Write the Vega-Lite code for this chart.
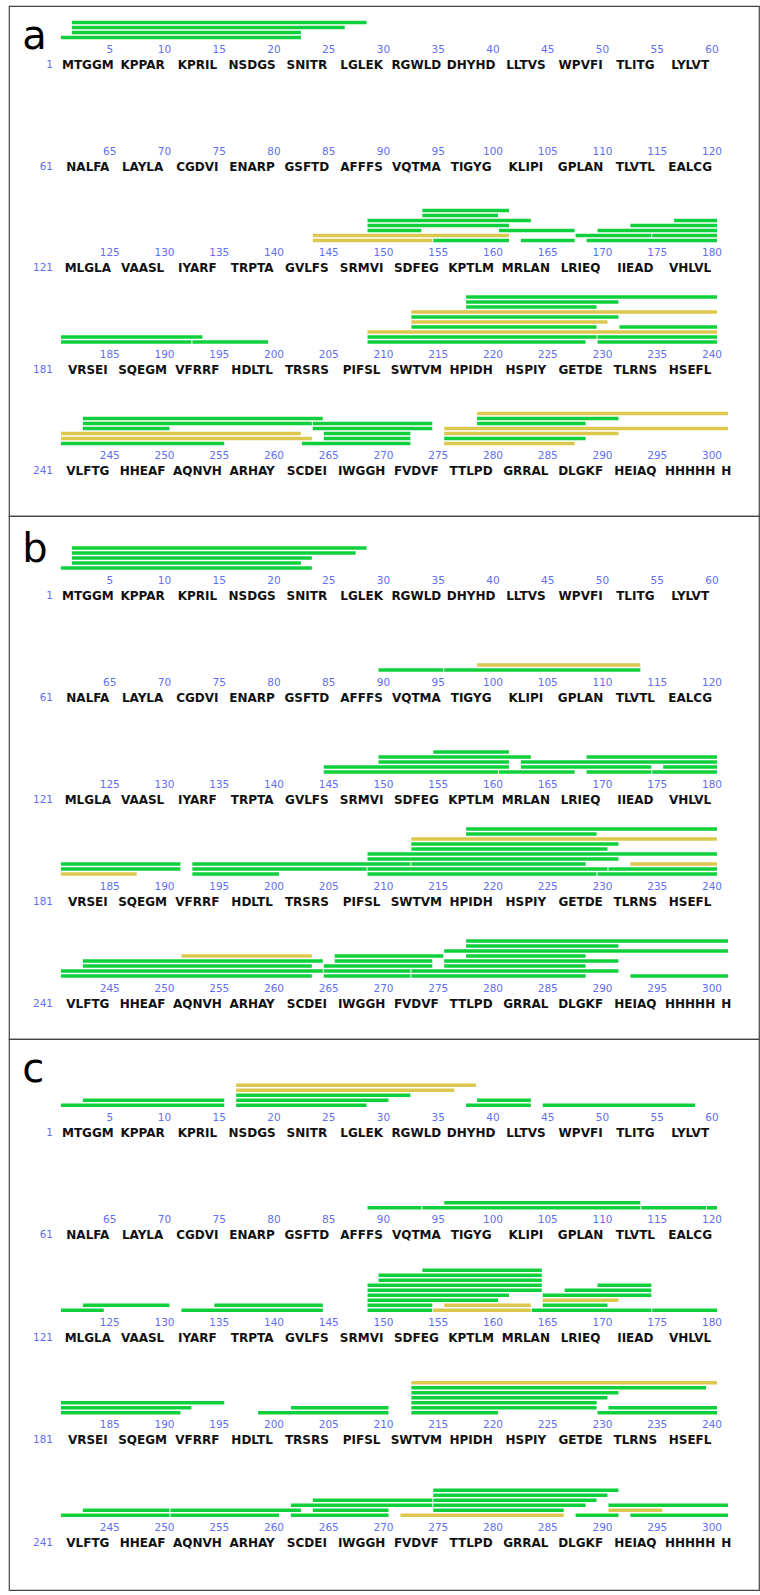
{
"$schema": "https://vega.github.io/schema/vega-lite/v6.json",
"padding": {"left": 8, "top": 5, "right": 2, "bottom": 0},
"spacing": 0,
"bounds": "flush",
"config": {"view": {"stroke": "#444444", "strokeWidth": 1.2}, "font": "DejaVu Sans"},
"datasets": {
"seq": [
{"line":1,"mid":3,"text":"MTGGM"},{"line":1,"mid":8,"text":"KPPAR"},{"line":1,"mid":13,"text":"KPRIL"},{"line":1,"mid":18,"text":"NSDGS"},{"line":1,"mid":23,"text":"SNITR"},{"line":1,"mid":28,"text":"LGLEK"},{"line":1,"mid":33,"text":"RGWLD"},{"line":1,"mid":38,"text":"DHYHD"},{"line":1,"mid":43,"text":"LLTVS"},{"line":1,"mid":48,"text":"WPVFI"},{"line":1,"mid":53,"text":"TLITG"},{"line":1,"mid":58,"text":"LYLVT"},
{"line":2,"mid":3,"text":"NALFA"},{"line":2,"mid":8,"text":"LAYLA"},{"line":2,"mid":13,"text":"CGDVI"},{"line":2,"mid":18,"text":"ENARP"},{"line":2,"mid":23,"text":"GSFTD"},{"line":2,"mid":28,"text":"AFFFS"},{"line":2,"mid":33,"text":"VQTMA"},{"line":2,"mid":38,"text":"TIGYG"},{"line":2,"mid":43,"text":"KLIPI"},{"line":2,"mid":48,"text":"GPLAN"},{"line":2,"mid":53,"text":"TLVTL"},{"line":2,"mid":58,"text":"EALCG"},
{"line":3,"mid":3,"text":"MLGLA"},{"line":3,"mid":8,"text":"VAASL"},{"line":3,"mid":13,"text":"IYARF"},{"line":3,"mid":18,"text":"TRPTA"},{"line":3,"mid":23,"text":"GVLFS"},{"line":3,"mid":28,"text":"SRMVI"},{"line":3,"mid":33,"text":"SDFEG"},{"line":3,"mid":38,"text":"KPTLM"},{"line":3,"mid":43,"text":"MRLAN"},{"line":3,"mid":48,"text":"LRIEQ"},{"line":3,"mid":53,"text":"IIEAD"},{"line":3,"mid":58,"text":"VHLVL"},
{"line":4,"mid":3,"text":"VRSEI"},{"line":4,"mid":8,"text":"SQEGM"},{"line":4,"mid":13,"text":"VFRRF"},{"line":4,"mid":18,"text":"HDLTL"},{"line":4,"mid":23,"text":"TRSRS"},{"line":4,"mid":28,"text":"PIFSL"},{"line":4,"mid":33,"text":"SWTVM"},{"line":4,"mid":38,"text":"HPIDH"},{"line":4,"mid":43,"text":"HSPIY"},{"line":4,"mid":48,"text":"GETDE"},{"line":4,"mid":53,"text":"TLRNS"},{"line":4,"mid":58,"text":"HSEFL"},
{"line":5,"mid":3,"text":"VLFTG"},{"line":5,"mid":8,"text":"HHEAF"},{"line":5,"mid":13,"text":"AQNVH"},{"line":5,"mid":18,"text":"ARHAY"},{"line":5,"mid":23,"text":"SCDEI"},{"line":5,"mid":28,"text":"IWGGH"},{"line":5,"mid":33,"text":"FVDVF"},{"line":5,"mid":38,"text":"TTLPD"},{"line":5,"mid":43,"text":"GRRAL"},{"line":5,"mid":48,"text":"DLGKF"},{"line":5,"mid":53,"text":"HEIAQ"},{"line":5,"mid":58,"text":"HHHHH"},{"line":5,"mid":61.3,"text":"H"}
],
"num": [
{"line":1,"col":5,"label":"5"},{"line":1,"col":10,"label":"10"},{"line":1,"col":15,"label":"15"},{"line":1,"col":20,"label":"20"},{"line":1,"col":25,"label":"25"},{"line":1,"col":30,"label":"30"},{"line":1,"col":35,"label":"35"},{"line":1,"col":40,"label":"40"},{"line":1,"col":45,"label":"45"},{"line":1,"col":50,"label":"50"},{"line":1,"col":55,"label":"55"},{"line":1,"col":60,"label":"60"},
{"line":2,"col":5,"label":"65"},{"line":2,"col":10,"label":"70"},{"line":2,"col":15,"label":"75"},{"line":2,"col":20,"label":"80"},{"line":2,"col":25,"label":"85"},{"line":2,"col":30,"label":"90"},{"line":2,"col":35,"label":"95"},{"line":2,"col":40,"label":"100"},{"line":2,"col":45,"label":"105"},{"line":2,"col":50,"label":"110"},{"line":2,"col":55,"label":"115"},{"line":2,"col":60,"label":"120"},
{"line":3,"col":5,"label":"125"},{"line":3,"col":10,"label":"130"},{"line":3,"col":15,"label":"135"},{"line":3,"col":20,"label":"140"},{"line":3,"col":25,"label":"145"},{"line":3,"col":30,"label":"150"},{"line":3,"col":35,"label":"155"},{"line":3,"col":40,"label":"160"},{"line":3,"col":45,"label":"165"},{"line":3,"col":50,"label":"170"},{"line":3,"col":55,"label":"175"},{"line":3,"col":60,"label":"180"},
{"line":4,"col":5,"label":"185"},{"line":4,"col":10,"label":"190"},{"line":4,"col":15,"label":"195"},{"line":4,"col":20,"label":"200"},{"line":4,"col":25,"label":"205"},{"line":4,"col":30,"label":"210"},{"line":4,"col":35,"label":"215"},{"line":4,"col":40,"label":"220"},{"line":4,"col":45,"label":"225"},{"line":4,"col":50,"label":"230"},{"line":4,"col":55,"label":"235"},{"line":4,"col":60,"label":"240"},
{"line":5,"col":5,"label":"245"},{"line":5,"col":10,"label":"250"},{"line":5,"col":15,"label":"255"},{"line":5,"col":20,"label":"260"},{"line":5,"col":25,"label":"265"},{"line":5,"col":30,"label":"270"},{"line":5,"col":35,"label":"275"},{"line":5,"col":40,"label":"280"},{"line":5,"col":45,"label":"285"},{"line":5,"col":50,"label":"290"},{"line":5,"col":55,"label":"295"},{"line":5,"col":60,"label":"300"}
],
"rowlab": [{"line":1,"label":"1"},{"line":2,"label":"61"},{"line":3,"label":"121"},{"line":4,"label":"181"},{"line":5,"label":"241"}],
"pep": [
{"panel":"a","line":1,"lane":1,"start":1,"end":22,"kind":"I"},{"panel":"a","line":1,"lane":2,"start":2,"end":22,"kind":"I"},{"panel":"a","line":1,"lane":3,"start":2,"end":26,"kind":"I"},{"panel":"a","line":1,"lane":4,"start":2,"end":28,"kind":"I"},
{"panel":"a","line":3,"lane":1,"start":24,"end":34,"kind":"II"},{"panel":"a","line":3,"lane":1,"start":35,"end":41,"kind":"I"},{"panel":"a","line":3,"lane":1,"start":43,"end":47,"kind":"I"},{"panel":"a","line":3,"lane":1,"start":49,"end":60,"kind":"I"},
{"panel":"a","line":3,"lane":2,"start":24,"end":41,"kind":"II"},{"panel":"a","line":3,"lane":2,"start":48,"end":54,"kind":"I"},{"panel":"a","line":3,"lane":2,"start":55,"end":60,"kind":"I"},
{"panel":"a","line":3,"lane":3,"start":29,"end":33,"kind":"I"},{"panel":"a","line":3,"lane":3,"start":41,"end":47,"kind":"I"},{"panel":"a","line":3,"lane":3,"start":50,"end":60,"kind":"I"},
{"panel":"a","line":3,"lane":4,"start":29,"end":41,"kind":"I"},{"panel":"a","line":3,"lane":4,"start":53,"end":60,"kind":"I"},
{"panel":"a","line":3,"lane":5,"start":29,"end":43,"kind":"I"},{"panel":"a","line":3,"lane":5,"start":57,"end":60,"kind":"I"},
{"panel":"a","line":3,"lane":6,"start":34,"end":40,"kind":"I"},{"panel":"a","line":3,"lane":7,"start":34,"end":41,"kind":"I"},
{"panel":"a","line":4,"lane":1,"start":1,"end":12,"kind":"I"},{"panel":"a","line":4,"lane":1,"start":13,"end":19,"kind":"I"},{"panel":"a","line":4,"lane":1,"start":29,"end":48,"kind":"I"},{"panel":"a","line":4,"lane":1,"start":50,"end":60,"kind":"I"},
{"panel":"a","line":4,"lane":2,"start":1,"end":13,"kind":"I"},{"panel":"a","line":4,"lane":2,"start":29,"end":49,"kind":"I"},{"panel":"a","line":4,"lane":2,"start":50,"end":60,"kind":"I"},
{"panel":"a","line":4,"lane":3,"start":29,"end":60,"kind":"II"},
{"panel":"a","line":4,"lane":4,"start":33,"end":49,"kind":"I"},{"panel":"a","line":4,"lane":4,"start":52,"end":60,"kind":"I"},
{"panel":"a","line":4,"lane":5,"start":33,"end":50,"kind":"II"},{"panel":"a","line":4,"lane":6,"start":33,"end":51,"kind":"I"},{"panel":"a","line":4,"lane":7,"start":33,"end":60,"kind":"II"},
{"panel":"a","line":4,"lane":8,"start":38,"end":49,"kind":"I"},{"panel":"a","line":4,"lane":9,"start":38,"end":51,"kind":"I"},{"panel":"a","line":4,"lane":10,"start":38,"end":60,"kind":"I"},
{"panel":"a","line":5,"lane":1,"start":1,"end":15,"kind":"I"},{"panel":"a","line":5,"lane":1,"start":23,"end":32,"kind":"I"},{"panel":"a","line":5,"lane":1,"start":36,"end":47,"kind":"II"},
{"panel":"a","line":5,"lane":2,"start":1,"end":23,"kind":"II"},{"panel":"a","line":5,"lane":2,"start":25,"end":32,"kind":"I"},{"panel":"a","line":5,"lane":2,"start":36,"end":48,"kind":"I"},
{"panel":"a","line":5,"lane":3,"start":1,"end":22,"kind":"II"},{"panel":"a","line":5,"lane":3,"start":25,"end":32,"kind":"I"},{"panel":"a","line":5,"lane":3,"start":36,"end":51,"kind":"II"},
{"panel":"a","line":5,"lane":4,"start":3,"end":10,"kind":"I"},{"panel":"a","line":5,"lane":4,"start":24,"end":34,"kind":"I"},{"panel":"a","line":5,"lane":4,"start":36,"end":61,"kind":"II"},
{"panel":"a","line":5,"lane":5,"start":3,"end":23,"kind":"I"},{"panel":"a","line":5,"lane":5,"start":24,"end":34,"kind":"I"},{"panel":"a","line":5,"lane":5,"start":39,"end":48,"kind":"I"},
{"panel":"a","line":5,"lane":6,"start":3,"end":24,"kind":"I"},{"panel":"a","line":5,"lane":6,"start":39,"end":51,"kind":"I"},
{"panel":"a","line":5,"lane":7,"start":39,"end":61,"kind":"II"},

{"panel":"b","line":1,"lane":1,"start":1,"end":23,"kind":"I"},{"panel":"b","line":1,"lane":2,"start":2,"end":22,"kind":"I"},{"panel":"b","line":1,"lane":3,"start":2,"end":23,"kind":"I"},{"panel":"b","line":1,"lane":4,"start":2,"end":27,"kind":"I"},{"panel":"b","line":1,"lane":5,"start":2,"end":28,"kind":"I"},
{"panel":"b","line":2,"lane":1,"start":30,"end":35,"kind":"I"},{"panel":"b","line":2,"lane":1,"start":36,"end":53,"kind":"I"},{"panel":"b","line":2,"lane":2,"start":39,"end":53,"kind":"II"},
{"panel":"b","line":3,"lane":1,"start":25,"end":40,"kind":"I"},{"panel":"b","line":3,"lane":1,"start":41,"end":47,"kind":"I"},{"panel":"b","line":3,"lane":1,"start":49,"end":54,"kind":"I"},{"panel":"b","line":3,"lane":1,"start":55,"end":60,"kind":"I"},
{"panel":"b","line":3,"lane":2,"start":25,"end":41,"kind":"I"},{"panel":"b","line":3,"lane":2,"start":43,"end":54,"kind":"I"},{"panel":"b","line":3,"lane":2,"start":56,"end":60,"kind":"I"},
{"panel":"b","line":3,"lane":3,"start":30,"end":41,"kind":"I"},{"panel":"b","line":3,"lane":3,"start":43,"end":60,"kind":"I"},
{"panel":"b","line":3,"lane":4,"start":30,"end":43,"kind":"I"},{"panel":"b","line":3,"lane":4,"start":49,"end":60,"kind":"I"},
{"panel":"b","line":3,"lane":5,"start":35,"end":41,"kind":"I"},
{"panel":"b","line":4,"lane":1,"start":1,"end":7,"kind":"II"},{"panel":"b","line":4,"lane":1,"start":13,"end":20,"kind":"I"},{"panel":"b","line":4,"lane":1,"start":29,"end":49,"kind":"I"},{"panel":"b","line":4,"lane":1,"start":50,"end":60,"kind":"I"},
{"panel":"b","line":4,"lane":2,"start":1,"end":11,"kind":"I"},{"panel":"b","line":4,"lane":2,"start":13,"end":28,"kind":"I"},{"panel":"b","line":4,"lane":2,"start":29,"end":50,"kind":"I"},{"panel":"b","line":4,"lane":2,"start":51,"end":60,"kind":"I"},
{"panel":"b","line":4,"lane":3,"start":1,"end":11,"kind":"I"},{"panel":"b","line":4,"lane":3,"start":13,"end":32,"kind":"I"},{"panel":"b","line":4,"lane":3,"start":33,"end":48,"kind":"I"},{"panel":"b","line":4,"lane":3,"start":53,"end":60,"kind":"II"},
{"panel":"b","line":4,"lane":4,"start":29,"end":51,"kind":"I"},{"panel":"b","line":4,"lane":5,"start":29,"end":60,"kind":"I"},
{"panel":"b","line":4,"lane":6,"start":33,"end":50,"kind":"I"},{"panel":"b","line":4,"lane":7,"start":33,"end":51,"kind":"I"},{"panel":"b","line":4,"lane":8,"start":33,"end":60,"kind":"II"},
{"panel":"b","line":4,"lane":9,"start":38,"end":49,"kind":"I"},{"panel":"b","line":4,"lane":10,"start":38,"end":60,"kind":"I"},
{"panel":"b","line":5,"lane":1,"start":1,"end":23,"kind":"I"},{"panel":"b","line":5,"lane":1,"start":25,"end":32,"kind":"I"},{"panel":"b","line":5,"lane":1,"start":33,"end":48,"kind":"I"},{"panel":"b","line":5,"lane":1,"start":53,"end":61,"kind":"I"},
{"panel":"b","line":5,"lane":2,"start":1,"end":24,"kind":"I"},{"panel":"b","line":5,"lane":2,"start":25,"end":32,"kind":"I"},{"panel":"b","line":5,"lane":2,"start":33,"end":51,"kind":"I"},
{"panel":"b","line":5,"lane":3,"start":3,"end":23,"kind":"I"},{"panel":"b","line":5,"lane":3,"start":25,"end":34,"kind":"I"},{"panel":"b","line":5,"lane":3,"start":36,"end":48,"kind":"I"},
{"panel":"b","line":5,"lane":4,"start":3,"end":24,"kind":"I"},{"panel":"b","line":5,"lane":4,"start":26,"end":34,"kind":"I"},{"panel":"b","line":5,"lane":4,"start":36,"end":51,"kind":"I"},
{"panel":"b","line":5,"lane":5,"start":12,"end":23,"kind":"II"},{"panel":"b","line":5,"lane":5,"start":26,"end":35,"kind":"I"},{"panel":"b","line":5,"lane":5,"start":38,"end":48,"kind":"I"},
{"panel":"b","line":5,"lane":6,"start":36,"end":61,"kind":"I"},{"panel":"b","line":5,"lane":7,"start":38,"end":51,"kind":"I"},{"panel":"b","line":5,"lane":8,"start":38,"end":61,"kind":"I"},

{"panel":"c","line":1,"lane":1,"start":1,"end":15,"kind":"I"},{"panel":"c","line":1,"lane":1,"start":17,"end":28,"kind":"I"},{"panel":"c","line":1,"lane":1,"start":38,"end":43,"kind":"I"},{"panel":"c","line":1,"lane":1,"start":45,"end":58,"kind":"I"},
{"panel":"c","line":1,"lane":2,"start":3,"end":15,"kind":"I"},{"panel":"c","line":1,"lane":2,"start":17,"end":30,"kind":"I"},{"panel":"c","line":1,"lane":2,"start":39,"end":43,"kind":"I"},
{"panel":"c","line":1,"lane":3,"start":17,"end":32,"kind":"I"},{"panel":"c","line":1,"lane":4,"start":17,"end":36,"kind":"II"},{"panel":"c","line":1,"lane":5,"start":17,"end":38,"kind":"II"},
{"panel":"c","line":2,"lane":1,"start":29,"end":33,"kind":"I"},{"panel":"c","line":2,"lane":1,"start":34,"end":53,"kind":"I"},{"panel":"c","line":2,"lane":1,"start":54,"end":59,"kind":"I"},{"panel":"c","line":2,"lane":1,"start":60,"end":60,"kind":"I"},
{"panel":"c","line":2,"lane":2,"start":36,"end":53,"kind":"I"},
{"panel":"c","line":3,"lane":1,"start":1,"end":4,"kind":"I"},{"panel":"c","line":3,"lane":1,"start":12,"end":24,"kind":"I"},{"panel":"c","line":3,"lane":1,"start":29,"end":34,"kind":"I"},{"panel":"c","line":3,"lane":1,"start":35,"end":43,"kind":"II"},{"panel":"c","line":3,"lane":1,"start":44,"end":54,"kind":"I"},{"panel":"c","line":3,"lane":1,"start":55,"end":60,"kind":"I"},
{"panel":"c","line":3,"lane":2,"start":3,"end":10,"kind":"I"},{"panel":"c","line":3,"lane":2,"start":15,"end":24,"kind":"I"},{"panel":"c","line":3,"lane":2,"start":29,"end":34,"kind":"I"},{"panel":"c","line":3,"lane":2,"start":36,"end":43,"kind":"II"},{"panel":"c","line":3,"lane":2,"start":45,"end":50,"kind":"I"},
{"panel":"c","line":3,"lane":3,"start":29,"end":40,"kind":"I"},{"panel":"c","line":3,"lane":3,"start":45,"end":51,"kind":"II"},
{"panel":"c","line":3,"lane":4,"start":29,"end":41,"kind":"I"},{"panel":"c","line":3,"lane":4,"start":45,"end":54,"kind":"I"},
{"panel":"c","line":3,"lane":5,"start":29,"end":44,"kind":"I"},{"panel":"c","line":3,"lane":5,"start":47,"end":54,"kind":"I"},
{"panel":"c","line":3,"lane":6,"start":29,"end":44,"kind":"I"},{"panel":"c","line":3,"lane":6,"start":50,"end":54,"kind":"I"},
{"panel":"c","line":3,"lane":7,"start":30,"end":44,"kind":"I"},{"panel":"c","line":3,"lane":8,"start":30,"end":44,"kind":"I"},{"panel":"c","line":3,"lane":9,"start":34,"end":44,"kind":"I"},
{"panel":"c","line":4,"lane":1,"start":1,"end":11,"kind":"I"},{"panel":"c","line":4,"lane":1,"start":19,"end":30,"kind":"I"},{"panel":"c","line":4,"lane":1,"start":33,"end":40,"kind":"I"},{"panel":"c","line":4,"lane":1,"start":50,"end":60,"kind":"I"},
{"panel":"c","line":4,"lane":2,"start":1,"end":12,"kind":"I"},{"panel":"c","line":4,"lane":2,"start":22,"end":30,"kind":"I"},{"panel":"c","line":4,"lane":2,"start":33,"end":49,"kind":"I"},{"panel":"c","line":4,"lane":2,"start":51,"end":60,"kind":"I"},
{"panel":"c","line":4,"lane":3,"start":1,"end":15,"kind":"I"},{"panel":"c","line":4,"lane":3,"start":33,"end":49,"kind":"I"},
{"panel":"c","line":4,"lane":4,"start":33,"end":50,"kind":"I"},{"panel":"c","line":4,"lane":5,"start":33,"end":51,"kind":"I"},{"panel":"c","line":4,"lane":6,"start":33,"end":59,"kind":"I"},{"panel":"c","line":4,"lane":7,"start":33,"end":60,"kind":"II"},
{"panel":"c","line":5,"lane":1,"start":1,"end":10,"kind":"I"},{"panel":"c","line":5,"lane":1,"start":11,"end":20,"kind":"I"},{"panel":"c","line":5,"lane":1,"start":22,"end":30,"kind":"I"},{"panel":"c","line":5,"lane":1,"start":32,"end":46,"kind":"II"},{"panel":"c","line":5,"lane":1,"start":48,"end":51,"kind":"I"},{"panel":"c","line":5,"lane":1,"start":53,"end":61,"kind":"I"},
{"panel":"c","line":5,"lane":2,"start":3,"end":10,"kind":"I"},{"panel":"c","line":5,"lane":2,"start":11,"end":22,"kind":"I"},{"panel":"c","line":5,"lane":2,"start":24,"end":30,"kind":"I"},{"panel":"c","line":5,"lane":2,"start":35,"end":46,"kind":"I"},{"panel":"c","line":5,"lane":2,"start":51,"end":55,"kind":"II"},
{"panel":"c","line":5,"lane":3,"start":22,"end":34,"kind":"I"},{"panel":"c","line":5,"lane":3,"start":35,"end":48,"kind":"I"},{"panel":"c","line":5,"lane":3,"start":51,"end":61,"kind":"I"},
{"panel":"c","line":5,"lane":4,"start":24,"end":34,"kind":"I"},{"panel":"c","line":5,"lane":4,"start":35,"end":49,"kind":"I"},
{"panel":"c","line":5,"lane":5,"start":35,"end":50,"kind":"I"},{"panel":"c","line":5,"lane":6,"start":35,"end":51,"kind":"I"}
]
},
"vconcat": [
{
"width": 750, "height": 510,
"layer": [
{"data": {"name": "pep"}, "transform": [{"filter": "datum.panel === 'a'"}],
 "mark": {"type": "rule", "strokeWidth": 3.6, "strokeCap": "butt", "xOffset": -5, "x2Offset": 5},
 "encoding": {
  "x": {"field": "start", "type": "quantitative", "scale": {"domain": [-4.2009, 64.2922], "nice": false, "zero": false}, "axis": null},
  "x2": {"field": "end"},
  "y": {"field": "line", "type": "ordinal", "scale": {"type": "point", "domain": [1,2,3,4,5], "range": [59, 465], "padding": 0}, "axis": null},
  "yOffset": {"field": "lane", "type": "quantitative", "scale": {"domain": [0, 10], "range": [-22.5, -72.5], "zero": false, "nice": false}},
  "color": {"field": "kind", "type": "nominal", "scale": {"domain": ["I", "II"], "range": ["#10cf3c", "#dcc84e"]}, "legend": null}
 }},
{"data": {"name": "num"},
 "mark": {"type": "text", "fontSize": 10.5, "color": "#5f6ff2", "align": "center", "baseline": "middle"},
 "encoding": {
  "x": {"field": "col", "type": "quantitative", "scale": {"domain": [-4.2009, 64.2922], "nice": false, "zero": false}, "axis": null},
  "y": {"field": "line", "type": "ordinal", "scale": {"type": "point", "domain": [1,2,3,4,5], "range": [59, 465], "padding": 0}, "axis": null},
  "yOffset": {"datum": -1.5, "type": "quantitative", "scale": {"domain": [0, 10], "range": [-22.5, -72.5], "zero": false, "nice": false}},
  "text": {"field": "label"}
 }},
{"data": {"name": "seq"},
 "mark": {"type": "text", "fontSize": 12, "fontWeight": "bold", "color": "#111111", "align": "center", "baseline": "middle"},
 "encoding": {
  "x": {"field": "mid", "type": "quantitative", "scale": {"domain": [-4.2009, 64.2922], "nice": false, "zero": false}, "axis": null},
  "y": {"field": "line", "type": "ordinal", "scale": {"type": "point", "domain": [1,2,3,4,5], "range": [59, 465], "padding": 0}, "axis": null},
  "yOffset": {"datum": -4.5, "type": "quantitative", "scale": {"domain": [0, 10], "range": [-22.5, -72.5], "zero": false, "nice": false}},
  "text": {"field": "text"}
 }},
{"data": {"name": "rowlab"},
 "mark": {"type": "text", "fontSize": 10.5, "color": "#5f6ff2", "align": "right", "baseline": "middle"},
 "encoding": {
  "x": {"datum": -0.18, "type": "quantitative", "scale": {"domain": [-4.2009, 64.2922], "nice": false, "zero": false}, "axis": null},
  "y": {"field": "line", "type": "ordinal", "scale": {"type": "point", "domain": [1,2,3,4,5], "range": [59, 465], "padding": 0}, "axis": null},
  "yOffset": {"datum": -4.5, "type": "quantitative", "scale": {"domain": [0, 10], "range": [-22.5, -72.5], "zero": false, "nice": false}},
  "text": {"field": "label"}
 }},
{"data": {"values": [{"t": "a"}]},
 "mark": {"type": "text", "fontSize": 40, "color": "#000000", "align": "left", "baseline": "alphabetic"},
 "encoding": {
  "x": {"datum": -3.0, "type": "quantitative", "scale": {"domain": [-4.2009, 64.2922], "nice": false, "zero": false}, "axis": null},
  "y": {"datum": 1, "type": "ordinal", "scale": {"type": "point", "domain": [1,2,3,4,5], "range": [59, 465], "padding": 0}, "axis": null},
  "yOffset": {"datum": -1.36, "type": "quantitative", "scale": {"domain": [0, 10], "range": [-22.5, -72.5], "zero": false, "nice": false}},
  "text": {"field": "t"}
 }}
]
},
{
"width": 750, "height": 523,
"layer": [
{"data": {"name": "pep"}, "transform": [{"filter": "datum.panel === 'b'"}],
 "mark": {"type": "rule", "strokeWidth": 3.6, "strokeCap": "butt", "xOffset": -5, "x2Offset": 5},
 "encoding": {
  "x": {"field": "start", "type": "quantitative", "scale": {"domain": [-4.2009, 64.2922], "nice": false, "zero": false}, "axis": null},
  "x2": {"field": "end"},
  "y": {"field": "line", "type": "ordinal", "scale": {"type": "point", "domain": [1,2,3,4,5], "range": [79.5, 487.5], "padding": 0}, "axis": null},
  "yOffset": {"field": "lane", "type": "quantitative", "scale": {"domain": [0, 10], "range": [-22.5, -72.5], "zero": false, "nice": false}},
  "color": {"field": "kind", "type": "nominal", "scale": {"domain": ["I", "II"], "range": ["#10cf3c", "#dcc84e"]}, "legend": null}
 }},
{"data": {"name": "num"},
 "mark": {"type": "text", "fontSize": 10.5, "color": "#5f6ff2", "align": "center", "baseline": "middle"},
 "encoding": {
  "x": {"field": "col", "type": "quantitative", "scale": {"domain": [-4.2009, 64.2922], "nice": false, "zero": false}, "axis": null},
  "y": {"field": "line", "type": "ordinal", "scale": {"type": "point", "domain": [1,2,3,4,5], "range": [79.5, 487.5], "padding": 0}, "axis": null},
  "yOffset": {"datum": -1.5, "type": "quantitative", "scale": {"domain": [0, 10], "range": [-22.5, -72.5], "zero": false, "nice": false}},
  "text": {"field": "label"}
 }},
{"data": {"name": "seq"},
 "mark": {"type": "text", "fontSize": 12, "fontWeight": "bold", "color": "#111111", "align": "center", "baseline": "middle"},
 "encoding": {
  "x": {"field": "mid", "type": "quantitative", "scale": {"domain": [-4.2009, 64.2922], "nice": false, "zero": false}, "axis": null},
  "y": {"field": "line", "type": "ordinal", "scale": {"type": "point", "domain": [1,2,3,4,5], "range": [79.5, 487.5], "padding": 0}, "axis": null},
  "yOffset": {"datum": -4.5, "type": "quantitative", "scale": {"domain": [0, 10], "range": [-22.5, -72.5], "zero": false, "nice": false}},
  "text": {"field": "text"}
 }},
{"data": {"name": "rowlab"},
 "mark": {"type": "text", "fontSize": 10.5, "color": "#5f6ff2", "align": "right", "baseline": "middle"},
 "encoding": {
  "x": {"datum": -0.18, "type": "quantitative", "scale": {"domain": [-4.2009, 64.2922], "nice": false, "zero": false}, "axis": null},
  "y": {"field": "line", "type": "ordinal", "scale": {"type": "point", "domain": [1,2,3,4,5], "range": [79.5, 487.5], "padding": 0}, "axis": null},
  "yOffset": {"datum": -4.5, "type": "quantitative", "scale": {"domain": [0, 10], "range": [-22.5, -72.5], "zero": false, "nice": false}},
  "text": {"field": "label"}
 }},
{"data": {"values": [{"t": "b"}]},
 "mark": {"type": "text", "fontSize": 40, "color": "#000000", "align": "left", "baseline": "alphabetic"},
 "encoding": {
  "x": {"datum": -3.0, "type": "quantitative", "scale": {"domain": [-4.2009, 64.2922], "nice": false, "zero": false}, "axis": null},
  "y": {"datum": 1, "type": "ordinal", "scale": {"type": "point", "domain": [1,2,3,4,5], "range": [79.5, 487.5], "padding": 0}, "axis": null},
  "yOffset": {"datum": 2.14, "type": "quantitative", "scale": {"domain": [0, 10], "range": [-22.5, -72.5], "zero": false, "nice": false}},
  "text": {"field": "t"}
 }}
]
},
{
"width": 750, "height": 551,
"layer": [
{"data": {"name": "pep"}, "transform": [{"filter": "datum.panel === 'c'"}],
 "mark": {"type": "rule", "strokeWidth": 3.6, "strokeCap": "butt", "xOffset": -5, "x2Offset": 5},
 "encoding": {
  "x": {"field": "start", "type": "quantitative", "scale": {"domain": [-4.2009, 64.2922], "nice": false, "zero": false}, "axis": null},
  "x2": {"field": "end"},
  "y": {"field": "line", "type": "ordinal", "scale": {"type": "point", "domain": [1,2,3,4,5], "range": [93.8, 503.8], "padding": 0}, "axis": null},
  "yOffset": {"field": "lane", "type": "quantitative", "scale": {"domain": [0, 10], "range": [-22.5, -72.5], "zero": false, "nice": false}},
  "color": {"field": "kind", "type": "nominal", "scale": {"domain": ["I", "II"], "range": ["#10cf3c", "#dcc84e"]}, "legend": null}
 }},
{"data": {"name": "num"},
 "mark": {"type": "text", "fontSize": 10.5, "color": "#5f6ff2", "align": "center", "baseline": "middle"},
 "encoding": {
  "x": {"field": "col", "type": "quantitative", "scale": {"domain": [-4.2009, 64.2922], "nice": false, "zero": false}, "axis": null},
  "y": {"field": "line", "type": "ordinal", "scale": {"type": "point", "domain": [1,2,3,4,5], "range": [93.8, 503.8], "padding": 0}, "axis": null},
  "yOffset": {"datum": -1.5, "type": "quantitative", "scale": {"domain": [0, 10], "range": [-22.5, -72.5], "zero": false, "nice": false}},
  "text": {"field": "label"}
 }},
{"data": {"name": "seq"},
 "mark": {"type": "text", "fontSize": 12, "fontWeight": "bold", "color": "#111111", "align": "center", "baseline": "middle"},
 "encoding": {
  "x": {"field": "mid", "type": "quantitative", "scale": {"domain": [-4.2009, 64.2922], "nice": false, "zero": false}, "axis": null},
  "y": {"field": "line", "type": "ordinal", "scale": {"type": "point", "domain": [1,2,3,4,5], "range": [93.8, 503.8], "padding": 0}, "axis": null},
  "yOffset": {"datum": -4.5, "type": "quantitative", "scale": {"domain": [0, 10], "range": [-22.5, -72.5], "zero": false, "nice": false}},
  "text": {"field": "text"}
 }},
{"data": {"name": "rowlab"},
 "mark": {"type": "text", "fontSize": 10.5, "color": "#5f6ff2", "align": "right", "baseline": "middle"},
 "encoding": {
  "x": {"datum": -0.18, "type": "quantitative", "scale": {"domain": [-4.2009, 64.2922], "nice": false, "zero": false}, "axis": null},
  "y": {"field": "line", "type": "ordinal", "scale": {"type": "point", "domain": [1,2,3,4,5], "range": [93.8, 503.8], "padding": 0}, "axis": null},
  "yOffset": {"datum": -4.5, "type": "quantitative", "scale": {"domain": [0, 10], "range": [-22.5, -72.5], "zero": false, "nice": false}},
  "text": {"field": "label"}
 }},
{"data": {"values": [{"t": "c"}]},
 "mark": {"type": "text", "fontSize": 40, "color": "#000000", "align": "left", "baseline": "alphabetic"},
 "encoding": {
  "x": {"datum": -3.0, "type": "quantitative", "scale": {"domain": [-4.2009, 64.2922], "nice": false, "zero": false}, "axis": null},
  "y": {"datum": 1, "type": "ordinal", "scale": {"type": "point", "domain": [1,2,3,4,5], "range": [93.8, 503.8], "padding": 0}, "axis": null},
  "yOffset": {"datum": 5.6, "type": "quantitative", "scale": {"domain": [0, 10], "range": [-22.5, -72.5], "zero": false, "nice": false}},
  "text": {"field": "t"}
 }}
]
}
]
}
